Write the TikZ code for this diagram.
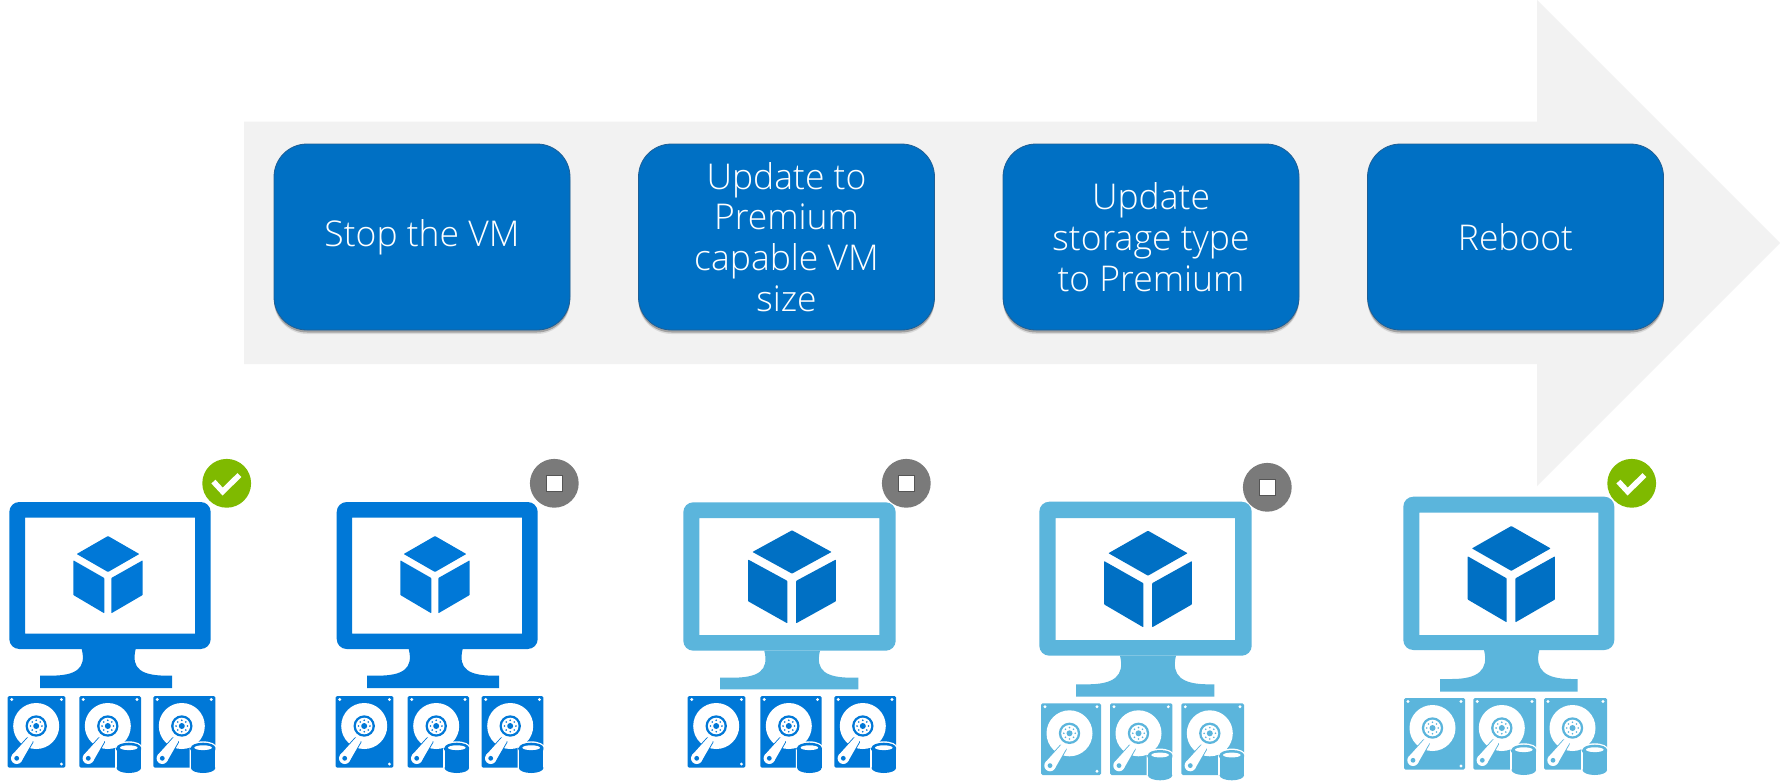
\documentclass[tikz,border=0pt]{standalone}
\usepackage{fontspec}
\setmainfont{Open Sans}[UprightFont=* Light]
\usetikzlibrary{shadows}
\definecolor{arrowgray}{HTML}{F2F2F2}
\definecolor{boxblue}{HTML}{0070C4}
\definecolor{boxedge}{HTML}{1F5F95}
\definecolor{azdark}{HTML}{0078D7}
\definecolor{azlight}{HTML}{5BB5DC}
\definecolor{cubeblue}{HTML}{0070C4}
\definecolor{okgreen}{HTML}{7FBA00}
\definecolor{stopgray}{HTML}{7A7A7A}
\tikzset{
  stepbox/.style={draw=boxedge,line width=.8pt,fill=boxblue,text=white,rounded corners=33pt,
    minimum width=296pt,minimum height=186pt,inner sep=0pt,align=center,
    font=\fontsize{35.5}{40.8}\selectfont,
    drop shadow={shadow xshift=0pt,shadow yshift=-4pt,opacity=.10,fill=black},
    drop shadow={shadow xshift=0pt,shadow yshift=-2.5pt,opacity=.25,fill=black}},
  badge/.style={circle,minimum size=48.8pt,inner sep=0pt},
  stopmark/.style={fill=white,draw=stopgray!70!black,line width=.5pt,minimum size=16pt,inner sep=0pt},
  checkmark/.style={draw=white,line width=5.5pt}
}
% outer box, screen, colour
\newcommand{\mybody}[9]{\fill[#9,even odd rule,rounded corners=0pt]
  [rounded corners=10pt] (#1,#3) rectangle (#2,#4)
  [sharp corners] (#5,#7) rectangle (#6,#8);}
% neck l,r, base l,r, top, base y, bottom y, colour
\newcommand{\mystand}[8]{\fill[#8] (#1,#5) .. controls ({#1+5},{#5+20}) and ({#1-6},#6) .. ({#1-32},#6)
  -- (#3,#6) -- (#3,#7) -- (#4,#7) -- (#4,#6) -- ({#2+32},#6)
  .. controls ({#2+6},#6) and ({#2-5},{#5+20}) .. (#2,#5) -- cycle;}
% centre x, top y, width, height, colour
\newcommand{\mycube}[5]{\begin{scope}[shift={(#1,#2)},xscale={#3/69.4},yscale={#4/77.3}]
  \fill[#5,rounded corners=.6pt] (0,0) -- (31.3,18) -- (0,36) -- (-31.3,18) -- cycle;
  \fill[#5,rounded corners=.6pt] (-34.7,24.3) -- (-3.7,42) -- (-3.7,77.3) -- (-34.7,59) -- cycle;
  \fill[#5,rounded corners=.6pt] (3.3,42) -- (34.7,24.3) -- (34.7,59) -- (3.3,77.3) -- cycle;
\end{scope}}
% x, y, width, scale, colour, cylinder
\newcommand{\myhdd}[6]{\begin{scope}[shift={(#1,#2)},scale=#4]
  \pgfmathsetmacro{\W}{#3/#4}
  \fill[#5,rounded corners=1.5pt] (0,0) rectangle (\W,71.7);
  \fill[white] (4,3.5) circle (1.6) (\W-4,3.5) circle (1.6);
  \ifnum#6=0 \fill[white] (\W-4,68) circle (1.6);\fi
  \fill[white] (28.5,30) circle (23);
  \fill[#5] (28.5,30) circle (10.7);
  \fill[white] (28.5,30) circle (8.3);
  \fill[#5] (28.5,30) circle (3);
  \foreach \a in {0,45,...,315} \fill[#5] (28.5,30) ++(\a:5.7) circle (.9);
  \draw[#5,fill=white,line width=1.8pt,line join=round] (13.6,65.6) -- (24.9,45.9) arc[start angle=36,end angle=216,radius=3.2] -- (4.4,59) -- cycle;
  \fill[white] (9,62.3) circle (5.7);
  \fill[white] (22.3,44) circle (3.2);
  \fill[white] (13.6,65.6) -- (24.9,45.9) -- (19.7,42.1) -- (4.4,59) -- cycle;
  \fill[#5] (9,62.3) circle (2.4);
  \ifnum#6=1
    \begin{scope}[shift={(\W-12.2,0)}]
      \fill[white] (-13.6,51.7) rectangle (13.6,72) (0,51.7) ellipse (13.6 and 6.4);
      \fill[#5] (-12.2,51.7) rectangle (12.2,72);
      \fill[#5] (0,51.7) ellipse (12.2 and 5);
      \fill[#5] (0,72) ellipse (12.2 and 5);
      \fill[white] (0,51.7) ellipse (8.8 and 2.4);
    \end{scope}
  \fi
\end{scope}}
\begin{document}
\begin{tikzpicture}[x=1pt,y=-1pt]
\useasboundingbox (0,0) rectangle (1780,782);
\fill[white] (0,0) rectangle (1780,782);
% arrow
\fill[arrowgray] (244,121.7) -- (1537,121.7) -- (1537,0) -- (1780,243) -- (1537,486) -- (1537,364) -- (244,364) -- cycle;
% steps
\node[stepbox] (s1) at (422,237) {Stop the VM};
\node[stepbox] (s2) at (786.5,237) {Update to\\Premium\\capable VM\\size};
\node[stepbox] (s3) at (1151,237) {Update\\storage type\\to Premium};
\node[stepbox] (s4) at (1515.5,237) {Reboot};
% monitor 1
\mybody{9.3}{210.7}{502}{649}{25}{195}{517.7}{633.7}{azdark}
\mystand{81.7}{135.7}{40}{172}{649}{675.7}{688}{azdark}
\mycube{108}{536}{69.4}{77.3}{azdark}
\myhdd{7.7}{696}{57.7}{1}{azdark}{0}
\myhdd{79.3}{696}{61.7}{1}{azdark}{1}
\myhdd{153.3}{696}{62}{1}{azdark}{1}
\node[badge,fill=okgreen] (b1) at (226.7,483.3) {};
\draw[checkmark] ([shift={(-13.3,-1.7)}]b1.center) -- ([shift={(-4,8.3)}]b1.center) -- ([shift={(12.7,-8.3)}]b1.center);
% monitor 2
\mybody{336.7}{537.7}{502}{649}{352}{522}{517.7}{633.7}{azdark}
\mystand{408.7}{462.7}{367}{499}{649}{675.7}{688}{azdark}
\mycube{435}{536}{69.4}{77.3}{azdark}
\myhdd{335.7}{696}{57.7}{1}{azdark}{0}
\myhdd{407.7}{696}{61.3}{1}{azdark}{1}
\myhdd{481.7}{696}{61.7}{1}{azdark}{1}
\node[badge,fill=stopgray] (b2) at (554.3,483.3) {};
\node[stopmark] (q2) at (b2) {};
% monitor 3
\mybody{683.3}{895.7}{502.3}{650.7}{699.3}{879.3}{518}{635}{azlight}
\mystand{764.3}{820}{720}{858.3}{650.7}{677.7}{689.3}{azlight}
\mycube{792}{530.3}{87.7}{93}{cubeblue}
\myhdd{687.7}{696}{57.7}{1}{azdark}{0}
\myhdd{760.3}{696}{61.3}{1}{azdark}{1}
\myhdd{834.3}{696}{61.7}{1}{azdark}{1}
\node[badge,fill=stopgray] (b3) at (906.3,483.3) {};
\node[stopmark] (q3) at (b3) {};
% monitor 4
\mybody{1039.3}{1251.7}{501.7}{655.7}{1055.7}{1235}{518}{640}{azlight}
\mystand{1120}{1176}{1076}{1214.3}{655.7}{684.3}{696.7}{azlight}
\mycube{1148}{530.7}{87.7}{96.6}{cubeblue}
\myhdd{1041}{703.3}{60}{1}{azlight}{0}
\myhdd{1110}{703.3}{62.3}{1}{azlight}{1}
\myhdd{1181.3}{703.3}{62.7}{1}{azlight}{1}
\node[badge,fill=stopgray] (b4) at (1267.3,487.3) {};
\node[stopmark] (q4) at (b4) {};
% monitor 5
\mybody{1403.3}{1614.3}{496.7}{650}{1419.3}{1598.3}{512.7}{635}{azlight}
\mystand{1484}{1539.3}{1440}{1577.7}{650}{679}{691.7}{azlight}
\mycube{1511.3}{526}{87.3}{96.3}{cubeblue}
\myhdd{1404}{698}{61}{1}{azlight}{0}
\myhdd{1473.3}{698}{62.7}{1}{azlight}{1}
\myhdd{1544}{698}{63}{1}{azlight}{1}
\node[badge,fill=okgreen] (b5) at (1631.7,483.3) {};
\draw[checkmark] ([shift={(-13.3,-1.7)}]b5.center) -- ([shift={(-4,8.3)}]b5.center) -- ([shift={(12.7,-8.3)}]b5.center);
\end{tikzpicture}
\end{document}
